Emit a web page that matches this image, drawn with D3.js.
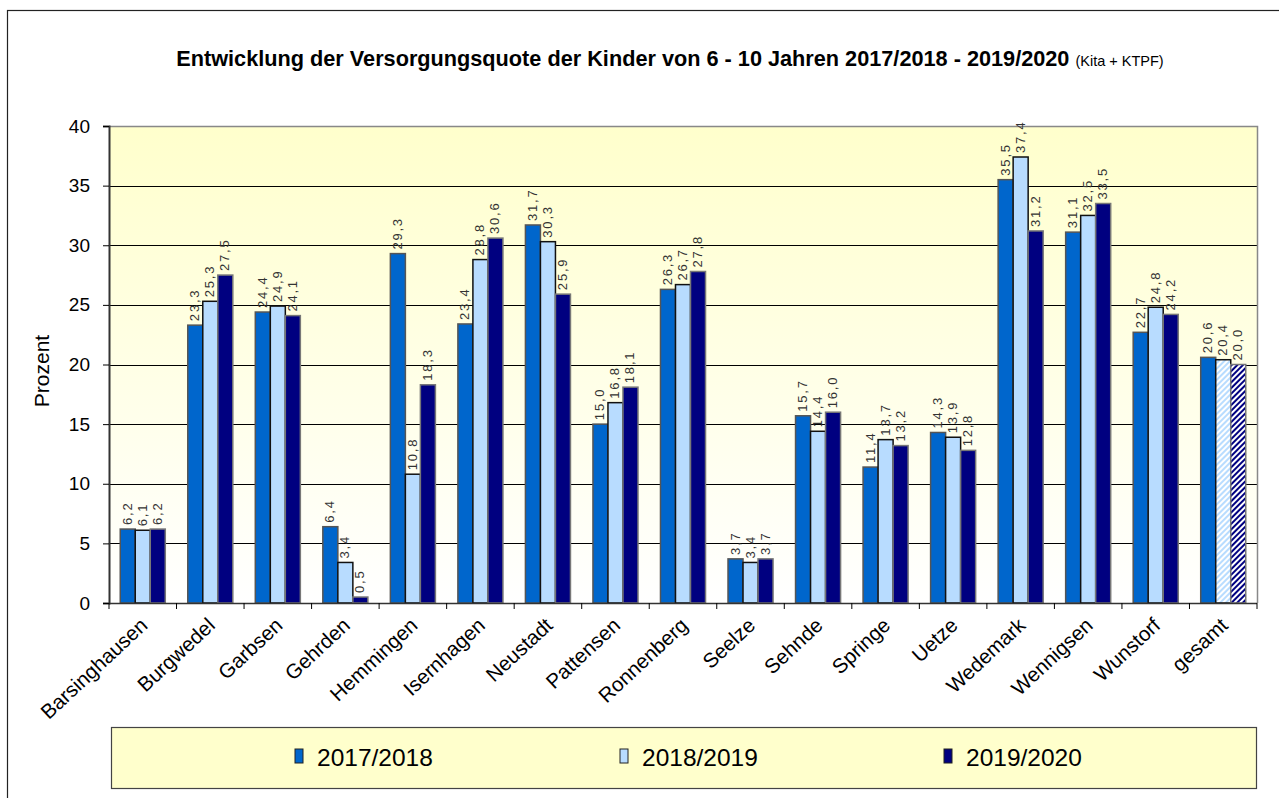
<!DOCTYPE html>
<html>
<head>
<meta charset="utf-8">
<script src="https://cdn.jsdelivr.net/npm/d3@7"></script>
<style>
  body { margin: 0; background: #fff; }
  text { font-family: "Liberation Sans", Arial, sans-serif; }
</style>
</head>
<body>
<div id="chart"></div>
<script>
// data
const categories = ['Barsinghausen', 'Burgwedel', 'Garbsen', 'Gehrden', 'Hemmingen', 'Isernhagen',
  'Neustadt', 'Pattensen', 'Ronnenberg', 'Seelze', 'Sehnde', 'Springe', 'Uetze', 'Wedemark',
  'Wennigsen', 'Wunstorf', 'gesamt'];
const seriesNames = ['2017/2018', '2018/2019', '2019/2020'];
const v2017 = [6.2, 23.3, 24.4, 6.4, 29.3, 23.4, 31.7, 15.0, 26.3, 3.7, 15.7, 11.4, 14.3, 35.5, 31.1, 22.7, 20.6];
const v2018 = [6.1, 25.3, 24.9, 3.4, 10.8, 28.8, 30.3, 16.8, 26.7, 3.4, 14.4, 13.7, 13.9, 37.4, 32.5, 24.8, 20.4];
const v2019 = [6.2, 27.5, 24.1, 0.5, 18.3, 30.6, 25.9, 18.1, 27.8, 3.7, 16.0, 13.2, 12.8, 31.2, 33.5, 24.2, 20.0];
const yTicks = [0, 5, 10, 15, 20, 25, 30, 35, 40];

const colors = ['#0066cc', '#b8dcff', '#000080'];
const strokes = ['#555', '#111', '#777'];

const W = 1279, H = 798;
const plot = { left: 109, right: 1257, top: 126, bottom: 603 };

const svg = d3.select('#chart').append('svg')
  .attr('width', W).attr('height', H);

const defs = svg.append('defs');
const grad = defs.append('linearGradient').attr('id', 'bg')
  .attr('x1', 0).attr('y1', 0).attr('x2', 0).attr('y2', 1);
grad.append('stop').attr('offset', '0%').attr('stop-color', '#ffffcc');
grad.append('stop').attr('offset', '100%').attr('stop-color', '#ffffff');

// hatch patterns for "gesamt"
function hatch(id, fg, bg) {
  const p = defs.append('pattern').attr('id', id)
    .attr('width', 4).attr('height', 4)
    .attr('patternUnits', 'userSpaceOnUse')
    .attr('patternTransform', 'rotate(45)');
  p.append('rect').attr('width', 4).attr('height', 4).attr('fill', bg);
  p.append('rect').attr('width', 2).attr('height', 4).attr('fill', fg);
}
hatch('hatchLight', '#b8dcff', '#ffffff');
hatch('hatchDark', '#000080', '#ffffff');

// outer frame
svg.append('rect').attr('x', 7.5).attr('y', 10.5).attr('width', W + 10).attr('height', H + 10)
  .attr('fill', 'none').attr('stroke', '#222').attr('stroke-width', 1.2);

// title
const title = svg.append('text')
  .attr('x', 670).attr('y', 66).attr('text-anchor', 'middle')
  .attr('font-size', 21.7).attr('font-weight', 'bold').attr('fill', '#000');
title.append('tspan').text('Entwicklung der Versorgungsquote der Kinder von 6 - 10 Jahren 2017/2018 - 2019/2020 ');
title.append('tspan').attr('font-size', 14.5).attr('font-weight', 'normal').text('(Kita + KTPF)');

// scales
const x0 = d3.scaleBand().domain(categories).range([plot.left, plot.right]).paddingInner(0).paddingOuter(0);
const x1 = d3.scaleBand().domain(seriesNames).range([0, x0.bandwidth() * 0.667]);
const y = d3.scaleLinear().domain([0, 40]).range([plot.bottom, plot.top]);

// plot background
svg.append('rect').attr('x', plot.left).attr('y', plot.top)
  .attr('width', plot.right - plot.left).attr('height', plot.bottom - plot.top)
  .attr('fill', 'url(#bg)');

// gridlines
svg.append('g').selectAll('line').data(yTicks.filter(d => d > 0 && d < 40)).join('line')
  .attr('x1', plot.left).attr('x2', plot.right)
  .attr('y1', d => Math.round(y(d)) + 0.5).attr('y2', d => Math.round(y(d)) + 0.5)
  .attr('stroke', '#000').attr('stroke-width', 1);

// plot border (top/right grey)
svg.append('path')
  .attr('d', `M${plot.left},${plot.top + 0.5}H${plot.right + 0.5}V${plot.bottom}`)
  .attr('fill', 'none').attr('stroke', '#888').attr('stroke-width', 1.5);

// bars
const series = [v2017, v2018, v2019];
const fmt = d => d.toFixed(1).replace('.', ',');
const offset = (x0.bandwidth() - x1.range()[1]) / 2;

series.forEach((vals, s) => {
  const g = svg.append('g');
  g.selectAll('rect').data(vals).join('rect')
    .attr('x', (d, i) => x0(categories[i]) + offset + x1(seriesNames[s]))
    .attr('y', d => y(d))
    .attr('width', x1.bandwidth())
    .attr('height', d => y(0) - y(d))
    .attr('fill', (d, i) => {
      if (categories[i] === 'gesamt' && s === 1) return 'url(#hatchLight)';
      if (categories[i] === 'gesamt' && s === 2) return 'url(#hatchDark)';
      return colors[s];
    })
    .attr('stroke', strokes[s]).attr('stroke-width', 1.5);

  g.selectAll('text').data(vals).join('text')
    .attr('transform', (d, i) => {
      const cx = x0(categories[i]) + offset + x1(seriesNames[s]) + x1.bandwidth() / 2 + 4;
      return `translate(${cx},${y(d) - 4}) rotate(-90)`;
    })
    .attr('font-size', 13).attr('letter-spacing', 1.8).attr('fill', '#333')
    .text(d => fmt(d));
});

// y axis
const yAxis = svg.append('g')
  .attr('transform', `translate(${plot.left},0)`)
  .call(d3.axisLeft(y).tickValues(yTicks).tickSize(6).tickPadding(13).tickFormat(d3.format('d')));
yAxis.select('.domain').attr('stroke', '#333').attr('stroke-width', 2);
yAxis.selectAll('.tick line').attr('stroke', '#000');
yAxis.selectAll('text').attr('font-size', 19).attr('fill', '#000')
  .attr('font-family', '"Liberation Sans", Arial, sans-serif');

// x axis
const xAxis = svg.append('g').attr('transform', `translate(0,${plot.bottom})`);
xAxis.append('line').attr('x1', plot.left).attr('x2', plot.right)
  .attr('y1', 0.5).attr('y2', 0.5).attr('stroke', '#333').attr('stroke-width', 1.5);
xAxis.selectAll('.xt').data(d3.range(categories.length + 1)).join('line')
  .attr('x1', i => plot.left + i * x0.bandwidth()).attr('x2', i => plot.left + i * x0.bandwidth())
  .attr('y1', 0).attr('y2', 6).attr('stroke', '#000');
xAxis.selectAll('text').data(categories).join('text')
  .attr('transform', d => `translate(${x0(d) + x0.bandwidth() / 2 + 6},${24}) rotate(-43)`)
  .attr('text-anchor', 'end').attr('font-size', 20.5).attr('fill', '#000')
  .text(d => d);

// y label
svg.append('text')
  .attr('transform', `translate(49,${371}) rotate(-90)`)
  .attr('text-anchor', 'middle').attr('font-size', 21).attr('fill', '#000')
  .text('Prozent');

// legend
const leg = svg.append('g');
leg.append('rect').attr('x', 111.5).attr('y', 727.5).attr('width', 1145).attr('height', 61)
  .attr('fill', '#ffffcc').attr('stroke', '#444').attr('stroke-width', 1.2);
const legX = [295, 620, 944];
seriesNames.forEach((name, s) => {
  leg.append('rect').attr('x', legX[s]).attr('y', 749).attr('width', 8).attr('height', 14)
    .attr('fill', colors[s]).attr('stroke', '#222').attr('stroke-width', 1);
  leg.append('text').attr('x', legX[s] + 22).attr('y', 766)
    .attr('font-size', 24.5).attr('fill', '#000').text(name);
});
</script>
</body>
</html>
